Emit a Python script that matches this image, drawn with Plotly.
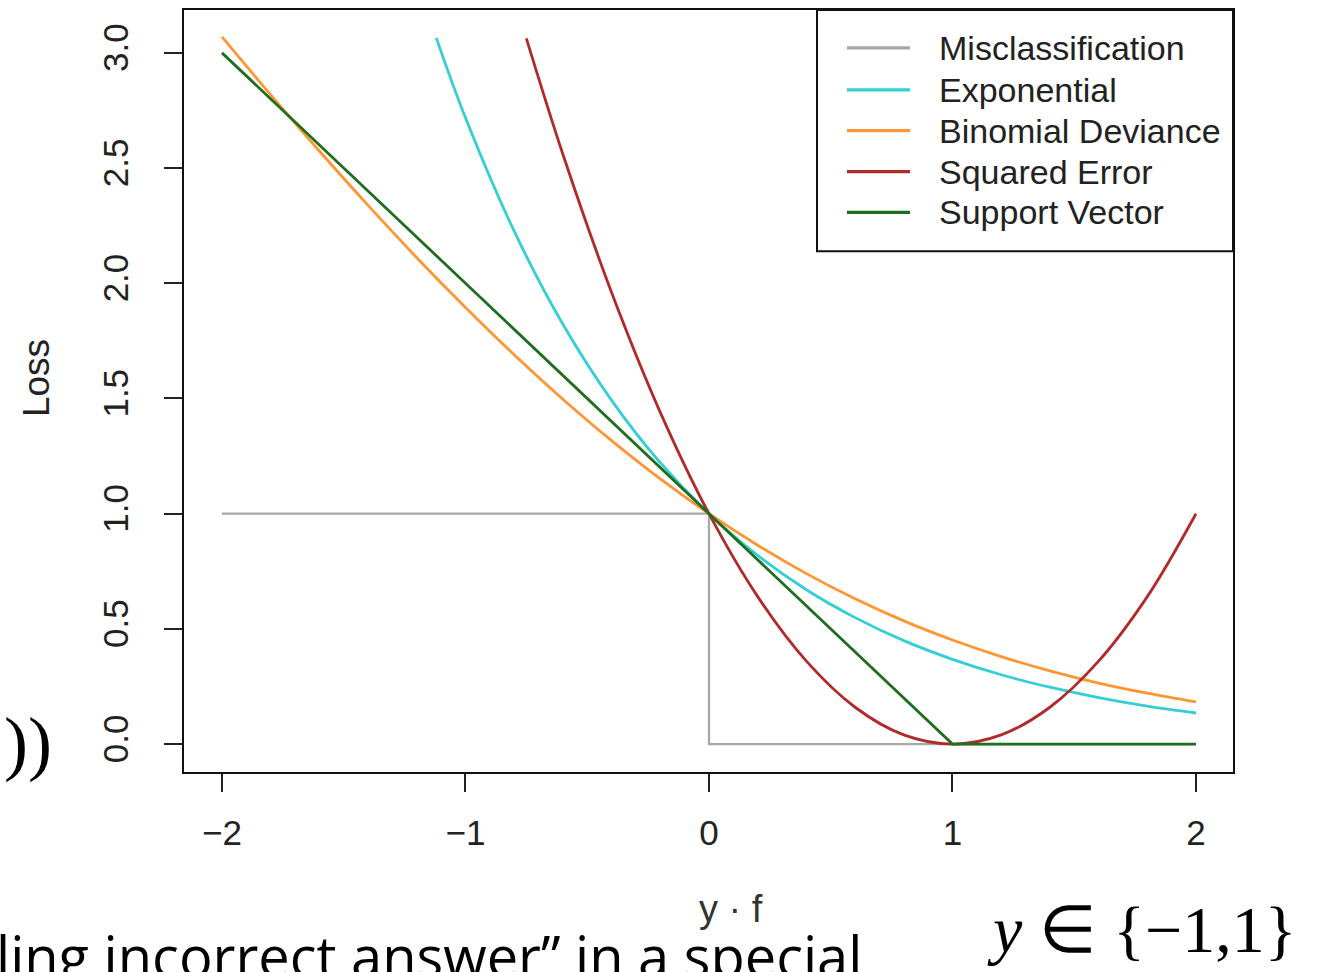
import plotly.graph_objects as go

# ---- data ----
misclass_x = [-2.0, 0.0, 0.0, 2.0]
misclass_y = [1.0, 1.0, 0.0, 0.0]

exp_x = [-1.12, -1.0, -0.8, -0.6, -0.4, -0.2, 0.0, 0.2, 0.4, 0.6, 0.8, 1.0, 1.2, 1.4, 1.6, 1.8, 2.0]
exp_y = [3.065, 2.718, 2.226, 1.822, 1.492, 1.221, 1.000, 0.819, 0.670, 0.549, 0.449, 0.368, 0.301, 0.247, 0.202, 0.165, 0.135]

binom_x = [-2.0, -1.8, -1.6, -1.4, -1.2, -1.0, -0.8, -0.6, -0.4, -0.2, 0.0, 0.2, 0.4, 0.6, 0.8, 1.0, 1.2, 1.4, 1.6, 1.8, 2.0]
binom_y = [3.069, 2.818, 2.574, 2.338, 2.111, 1.895, 1.690, 1.497, 1.317, 1.151, 1.000, 0.863, 0.740, 0.631, 0.535, 0.452, 0.380, 0.318, 0.265, 0.221, 0.183]

sq_x = [-0.75, -0.6, -0.4, -0.2, 0.0, 0.2, 0.4, 0.6, 0.8, 1.0, 1.2, 1.4, 1.6, 1.8, 2.0]
sq_y = [3.063, 2.56, 1.96, 1.44, 1.00, 0.64, 0.36, 0.16, 0.04, 0.00, 0.04, 0.16, 0.36, 0.64, 1.00]

svm_x = [-2.0, 1.0, 2.0]
svm_y = [3.0, 0.0, 0.0]

series_names = ["Misclassification", "Exponential", "Binomial Deviance", "Squared Error", "Support Vector"]
series_colors = ["#a8a8a8", "#33cfd4", "#ff9633", "#b02a2a", "#1f6e1f"]

x_ticks = [-2, -1, 0, 1, 2]
x_tick_labels = ["\u22122", "\u22121", "0", "1", "2"]
y_ticks = [0.0, 0.5, 1.0, 1.5, 2.0, 2.5, 3.0]
y_tick_labels = ["0.0", "0.5", "1.0", "1.5", "2.0", "2.5", "3.0"]

W, H = 1335, 972
L, R, T, B = 184, 1335 - 1233, 8, 972 - 772
PW, PH = W - L - R, H - T - B


def px(xp):
    return (xp - L) / PW


def py(yp):
    return (H - B - yp) / PH


fig = go.Figure()
data = [(misclass_x, misclass_y, "linear"), (exp_x, exp_y, "spline"), (binom_x, binom_y, "spline"),
        (sq_x, sq_y, "spline"), (svm_x, svm_y, "linear")]
for (xs, ys, shp), name, col in zip(data, series_names, series_colors):
    fig.add_trace(go.Scatter(x=xs, y=ys, mode="lines", name=name, showlegend=False,
                             line=dict(color=col, width=2.8 if name != "Misclassification" else 2.3, shape=shp)))

tick_font = dict(family="Liberation Sans, Arial, sans-serif", size=35, color="#222")
fig.update_xaxes(range=[-2.156, 2.152], tickvals=x_ticks, ticktext=x_tick_labels,
                 showgrid=False, zeroline=False, showline=True, mirror=True,
                 linecolor="#111", linewidth=2, ticks="outside", ticklen=18, tickwidth=1.6,
                 tickcolor="#222", tickfont=tick_font, ticklabelstandoff=11)
fig.update_yaxes(range=[-0.121, 3.186], tickvals=y_ticks, ticktext=y_tick_labels,
                 showgrid=False, zeroline=False, showline=True, mirror=True,
                 linecolor="#111", linewidth=2, ticks="outside", ticklen=18, tickwidth=1.6,
                 tickcolor="#222", tickfont=tick_font, tickangle=-90, ticklabelstandoff=22)

ann = []
shapes = []
# legend (box, line samples, labels) drawn to match the reference layout
legend_rows = [46, 88, 129, 170, 211]
shapes.append(dict(type="rect", xref="paper", yref="paper", x0=px(817), x1=px(1233), y0=py(250), y1=py(8),
                   line=dict(color="#111", width=2), fillcolor="white", layer="above"))
for name, col, ry in zip(series_names, series_colors, legend_rows):
    shapes.append(dict(type="line", xref="paper", yref="paper", x0=px(847), x1=px(910), y0=py(ry), y1=py(ry),
                       line=dict(color=col, width=3.2), layer="above"))
    ann.append(dict(text=name, x=px(937), y=py(ry), xref="paper", yref="paper", showarrow=False,
                    font=dict(family="Liberation Sans, Arial, sans-serif", size=34, color="#222"),
                    xanchor="left", yanchor="middle"))

# axis titles
ann.append(dict(text="Loss", x=px(36), y=py(377), xref="paper", yref="paper", showarrow=False,
                textangle=-90, font=dict(family="Liberation Sans, Arial, sans-serif", size=37, color="#222"),
                xanchor="center", yanchor="middle"))
ann.append(dict(text="y \u00b7 f", x=px(731), y=py(909), xref="paper", yref="paper", showarrow=False,
                font=dict(family="Liberation Sans, Arial, sans-serif", size=38, color="#333"),
                xanchor="center", yanchor="middle"))
# slide text overlapping the figure
ann.append(dict(text="ling incorrect answer\u201d in a special", x=px(-6), y=py(955), xref="paper", yref="paper",
                showarrow=False, font=dict(family="Open Sans, Noto Sans, sans-serif", size=56, color="#000"),
                xanchor="left", yanchor="middle"))
ann.append(dict(text="))", x=px(28), y=py(743), xref="paper", yref="paper", showarrow=False,
                font=dict(family="Liberation Serif, serif", size=72, color="#000"),
                xanchor="center", yanchor="middle"))
ann.append(dict(text="<i>y</i> \u2208 {\u22121,1}", x=px(1298), y=py(930), xref="paper", yref="paper",
                showarrow=False, font=dict(family="Liberation Serif, serif", size=66, color="#000"),
                xanchor="right", yanchor="middle"))

fig.update_layout(
    width=W, height=H, margin=dict(l=L, r=R, t=T, b=B),
    paper_bgcolor="white", plot_bgcolor="white",
    annotations=ann, shapes=shapes,
    showlegend=False,
)

fig.write_html("out.html")
